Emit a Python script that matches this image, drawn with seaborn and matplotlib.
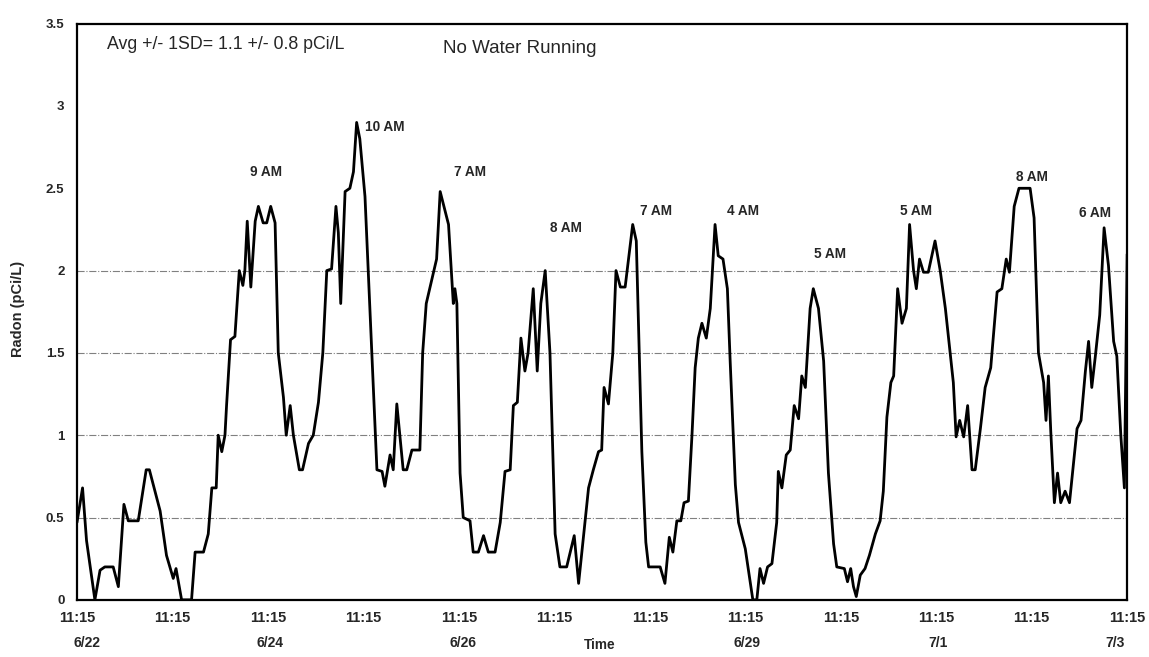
import matplotlib
matplotlib.use("Agg")
import matplotlib.pyplot as plt
import matplotlib.transforms as mtransforms
import seaborn as sns
import pandas as pd

# hours since 6/22 11:15, radon in pCi/L
hours = [
    0, 1.4, 2.4, 4.5, 5.8, 7.0, 9.1, 10.4, 11.8, 12.9, 15.4, 17.4, 18.2, 20.9,
    22.5, 24.2, 24.9, 26.3, 28.8, 29.7, 31.8, 33.0, 33.9, 35.0, 35.5, 36.4,
    37.2, 37.6, 38.6, 39.7, 40.8, 41.7, 42.2, 42.8, 43.7, 44.8, 45.6, 46.8,
    47.7, 48.7, 49.8, 50.6, 51.9, 52.6, 53.6, 54.4, 55.9, 56.7, 58.2, 59.4,
    60.7, 61.8, 62.8, 64.0, 65.1, 65.7, 66.3, 67.4, 68.6, 69.5, 70.3, 71.1,
    72.4, 75.4, 76.7, 77.4, 78.7, 79.5, 80.4, 82.0, 82.9, 84.2, 86.2, 86.9,
    87.8, 90.4, 91.3, 93.4, 94.6, 95.0, 95.5, 96.3, 97.1, 98.8, 99.6, 100.9,
    102.2, 103.4, 105.1, 106.4, 107.6, 108.9, 109.7, 110.7, 111.6, 112.6,
    113.4, 114.7, 115.7, 116.6, 117.7, 118.9, 120.2, 121.4, 123.1, 125.0,
    126.1, 127.3, 128.6, 129.8, 131.1, 131.9, 132.5, 133.6, 134.7, 135.5,
    136.6, 137.8, 139.7, 140.6, 142.0, 143.0, 143.7, 146.6, 147.8, 148.9,
    149.8, 150.8, 151.8, 152.6, 153.7, 154.6, 155.4, 156.2, 157.1, 158.2,
    159.2, 160.4, 161.2, 162.4, 163.5, 164.2, 165.5, 166.3, 168.0, 168.8,
    169.9, 170.9, 171.7, 172.6, 173.6, 174.7, 175.9, 176.3, 177.2, 178.3,
    179.3, 180.3, 181.4, 182.2, 183.1, 184.3, 185.1, 186.4, 187.7, 188.9,
    190.2, 191.0, 192.9, 193.7, 194.5, 195.2, 195.9, 196.9, 198.1, 199.2,
    200.7, 201.9, 202.7, 203.6, 204.6, 205.3, 206.3, 207.4, 208.5, 209.3,
    210.3, 211.0, 211.8, 212.8, 214.0, 215.7, 217.0, 218.3, 219.5, 220.3,
    221.0, 221.9, 222.9, 223.9, 225.0, 225.8, 227.1, 228.3, 229.7, 231.3,
    232.5, 233.6, 234.4, 235.6, 236.8, 239.6, 240.6, 241.7, 243.0, 243.6,
    244.2, 244.8, 245.7, 246.5, 247.3, 248.4, 249.5, 251.4, 252.4, 253.5,
    254.3, 255.1, 256.0, 257.1, 258.2, 259.3, 260.6, 261.4, 262.4, 263.3,
    264.0,
]
radon = [
    0.47, 0.68, 0.36, 0.0, 0.18, 0.2, 0.2, 0.08, 0.58, 0.48, 0.48, 0.79, 0.79,
    0.54, 0.27, 0.13, 0.19, 0.0, 0.0, 0.29, 0.29, 0.4, 0.68, 0.68, 1.0, 0.9,
    1.0, 1.18, 1.58, 1.6, 2.0, 1.91, 2.0, 2.3, 1.9, 2.3, 2.39, 2.29, 2.29,
    2.39, 2.29, 1.5, 1.23, 1.0, 1.18, 1.0, 0.79, 0.79, 0.95, 1.0, 1.2, 1.5,
    2.0, 2.01, 2.39, 2.23, 1.8, 2.48, 2.5, 2.6, 2.9, 2.8, 2.45, 0.79, 0.78,
    0.69, 0.88, 0.79, 1.19, 0.79, 0.79, 0.91, 0.91, 1.5, 1.8, 2.07, 2.48,
    2.28, 1.8, 1.89, 1.8, 0.77, 0.5, 0.48, 0.29, 0.29, 0.39, 0.29, 0.29,
    0.47, 0.78, 0.79, 1.18, 1.2, 1.59, 1.39, 1.5, 1.89, 1.39, 1.8, 2.0, 1.5,
    0.4, 0.2, 0.2, 0.39, 0.1, 0.38, 0.68, 0.79, 0.9, 0.91, 1.29, 1.19, 1.5,
    2.0, 1.9, 1.9, 2.28, 2.18, 0.9, 0.35, 0.2, 0.2, 0.1, 0.38, 0.29, 0.48,
    0.48, 0.59, 0.6, 1.0, 1.41, 1.59, 1.68, 1.59, 1.77, 2.28, 2.09, 2.07,
    1.89, 1.45, 0.7, 0.47, 0.31, 0.18, 0.0, 0.0, 0.19, 0.1, 0.2, 0.22, 0.47,
    0.78, 0.68, 0.88, 0.91, 1.18, 1.1, 1.36, 1.29, 1.77, 1.89, 1.77, 1.45,
    0.77, 0.34, 0.2, 0.19, 0.11, 0.19, 0.08, 0.02, 0.15, 0.19, 0.27, 0.4,
    0.48, 0.66, 1.11, 1.32, 1.36, 1.89, 1.68, 1.77, 2.28, 2.0, 1.89, 2.07,
    1.99, 1.99, 2.18, 2.0, 1.77, 1.5, 1.32, 0.99, 1.09, 0.99, 1.18, 0.79,
    0.79, 1.04, 1.29, 1.41, 1.87, 1.89, 2.07, 1.99, 2.39, 2.5, 2.5, 2.32,
    1.5, 1.32, 1.09, 1.36, 1.02, 0.59, 0.77, 0.59, 0.66, 0.59, 1.04, 1.09,
    1.39, 1.57, 1.29, 1.48, 1.73, 2.26, 2.03, 1.57, 1.48, 1.0, 0.68, 2.1,
]

# peak time labels: (hour position, value position, text)
peak_h = [47.5, 77.4, 98.8, 123.0, 145.5, 167.5, 189.3, 211.0, 240.0, 255.8]
peak_v = [2.60, 2.87, 2.60, 2.26, 2.36, 2.36, 2.10, 2.36, 2.57, 2.35]
peak_txt = ["9 AM", "10 AM", "7 AM", "8 AM", "7 AM", "4 AM", "5 AM", "5 AM",
            "8 AM", "6 AM"]

tick_hours = list(range(0, 265, 24))
tick_labels = ["11:15"] * len(tick_hours)
date_h = [2.5, 48.5, 97.0, 168.5, 216.5, 261.0]
date_txt = ["6/22", "6/24", "6/26", "6/29", "7/1", "7/3"]

df = pd.DataFrame({"hours": hours, "radon": radon})

sns.set_style("white")
plt.rcParams["font.family"] = ["Liberation Sans", "DejaVu Sans"]

fig = plt.figure(figsize=(11.49, 6.57), dpi=100)
ax = fig.add_axes([0.067, 0.087, 0.914, 0.877])

for g in [0.5, 1.0, 1.5, 2.0]:
    ax.axhline(g, color="#808080", lw=0.8, ls="-.", zorder=0)

sns.lineplot(data=df, x="hours", y="radon", color="black", lw=2.0, ax=ax)

ax.set_xlim(0, 264)
ax.set_ylim(0, 3.5)
ax.set_yticks([0, 0.5, 1, 1.5, 2, 2.5, 3, 3.5])
ax.set_yticklabels(["0", "0.5", "1", "1.5", "2", "2.5", "3", "3.5"],
                   fontsize=9.5, fontweight="bold")
ax.set_xticks(tick_hours)
ax.set_xticklabels(tick_labels, fontsize=10.5, fontweight="bold")
ax.set_xticks(list(range(12, 264, 24)), minor=True)
ax.tick_params(axis="x", which="both", direction="in", length=3, pad=8)
ax.tick_params(axis="y", length=0, pad=9)
ax.set_xlabel("")
ax.set_ylabel("")

for s in ax.spines.values():
    s.set_visible(True)
    s.set_color("black")
    s.set_linewidth(1.6)

for h, v, t in zip(peak_h, peak_v, peak_txt):
    ax.text(h, v, t, fontsize=9.8, fontweight="bold", ha="center", va="center")

ax.text(0.029, 0.963, "Avg +/- 1SD= 1.1 +/- 0.8 pCi/L", transform=ax.transAxes,
        fontsize=12.8, ha="left", va="center")
ax.text(0.349, 0.957, "No Water Running", transform=ax.transAxes,
        fontsize=13.5, ha="left", va="center")

trans = mtransforms.blended_transform_factory(ax.transData, fig.transFigure)
for h, t in zip(date_h, date_txt):
    ax.text(h, 0.021, t, transform=trans, fontsize=10, fontweight="bold",
            ha="center", va="center")
ax.text(131.5, 0.018, "Time", transform=trans, fontsize=9.8,
        fontweight="bold", ha="center", va="center")
fig.text(0.016, 0.53, "Radon (pCi/L)", rotation=90, fontsize=10.5,
         fontweight="bold", ha="center", va="center")

fig.savefig("out.png", dpi=100)
